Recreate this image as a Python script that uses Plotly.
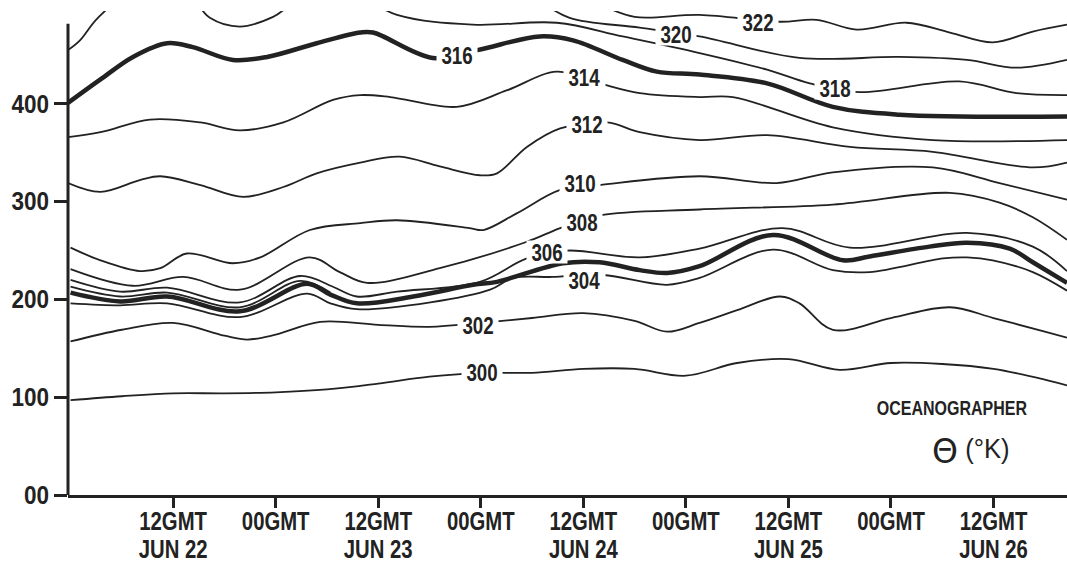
import json
import plotly.graph_objects as go

# ---- data: isentropes (hours after 00GMT Jun 22, height) ----
h300 = [0, 6, 12, 18, 24, 30, 36, 42, 48, 54, 60, 66, 72, 78, 84, 90, 96, 102, 108, 114, 116.6]
z300 = [97, 101, 104, 104, 105, 108, 114, 121, 125, 125, 129, 129, 122, 135, 139, 128, 135, 134, 129, 118, 112]

h302 = [0, 6, 12, 18, 20.7, 24, 29.2, 36, 42, 48, 54, 60, 66, 69.8, 73.6, 78, 83, 85.3, 89.2, 96, 102.9, 108, 114, 116.6]
z302 = [157, 169, 176, 163, 159, 164, 177, 174, 172, 176, 181, 186, 178, 167, 176, 189, 203, 196, 169, 181, 192, 181, 167, 161]

h304 = [0, 5.8, 11.3, 19.8, 27.7, 30.4, 33.5, 42.1, 49.1, 51.8, 56.4, 62.3, 69.8, 73.6, 82.2, 89.2, 93.5, 102.1, 104.9, 107.9, 112.6, 116.6]
z304 = [196, 194, 196, 182, 206, 196, 190, 197, 210, 222, 223, 225, 215, 222, 251, 230, 228, 242, 243, 240, 228, 209]

h305 = [0, 5.8, 11.3, 19.8, 27.7, 30.4, 33.5, 40.1, 47.1, 49.9, 57.6, 61.9, 66.6, 69.8, 73.6, 82.2, 90.4, 93.5, 100.5, 104.9, 109.9, 112.6, 116.6]
z305 = [207, 198, 203, 188, 216, 205, 196, 203, 215, 218, 237, 238, 230, 227, 234, 266, 240, 244, 254, 258, 252, 238, 217]

hX = [0, 5.8, 11.3, 19.8, 26.9, 30.4]
zX = [213, 203, 207, 192, 219, 207]

h306 = [0, 5.8, 11.3, 19.8, 26.9, 30.7, 33.5, 38.2, 47.9, 53.4, 58.1, 66.6, 73.6, 83.3, 91.2, 104.9, 112.6, 116.6]
z306 = [220, 208, 212, 197, 224, 213, 203, 208, 218, 242, 250, 243, 252, 273, 253, 268, 254, 229]

h308 = [0, 7.3, 13.2, 19.8, 28, 31.5, 34.7, 43.2, 53.4, 57.3, 61.9, 73.6, 89.2, 102.9, 108.7, 112.6, 116.6]
z308 = [231, 214, 223, 210, 243, 228, 217, 232, 259, 273, 286, 292, 297, 309, 299, 284, 261]

h310 = [0, 3.5, 8.1, 10.5, 13.6, 19, 22.2, 28, 33.9, 38.2, 46.7, 48.3, 52.2, 57.3, 61.9, 73.6, 82.6, 89.2, 100.9, 108.7, 116.6]
z310 = [253, 240, 229, 232, 247, 237, 243, 271, 278, 281, 273, 271, 288, 312, 317, 326, 319, 330, 335, 319, 302]

h312 = [-0.3, 3.5, 8.1, 10.5, 15.2, 20.2, 24.9, 28.8, 33.9, 38.5, 43.2, 47.9, 49.9, 53.4, 57.3, 62.8, 66.6, 73.6, 81.5, 91.2, 100.9, 112.6, 116.6]
z312 = [319, 310, 322, 326, 317, 305, 315, 329, 340, 346, 336, 327, 329, 356, 375, 381, 371, 363, 368, 356, 351, 335, 340]

h314 = [-0.3, 3.5, 9.3, 15.2, 19.8, 24.9, 30.7, 33.9, 37.4, 45.2, 51.1, 56.9, 61.9, 66.6, 73.6, 77.5, 89.2, 100.9, 116.6]
z314 = [366, 371, 384, 381, 373, 381, 404, 409, 407, 397, 414, 433, 421, 411, 407, 407, 376, 363, 363]

h316 = [-0.3, 3.5, 7.3, 11.3, 14.3, 19, 23, 28.8, 33.9, 35.4, 42.4, 47.6, 54.9, 58.8, 64.6, 68.6, 73.6, 81.5, 89.2, 97, 116.6]
z316 = [401, 425, 448, 462, 458, 445, 448, 462, 473, 473, 447, 455, 469, 465, 445, 433, 430, 421, 397, 389, 387]

h318 = [-0.3, 1.1, 3.2, 8, 13, 16.3, 19.8, 23.7, 30, 38.2, 47.1, 56.9, 64.6, 73.6, 81.5, 86.5, 92.3, 104, 110.7, 116.6]
z318 = [455, 465, 488, 520, 520, 488, 479, 489, 525, 491, 481, 483, 469, 452, 435, 421, 412, 423, 411, 409]

h320 = [55, 58.4, 66.6, 73.6, 85.3, 97, 104.9, 110.7, 116.6]
z320 = [505, 488, 478, 469, 447, 448, 445, 437, 445]

h322 = [62, 66, 73.6, 83, 87.3, 92, 97.8, 102.9, 107.9, 112.6, 116.6]
z322 = [502, 489, 491, 484, 486, 476, 483, 473, 463, 474, 481]

# contour labels
label_text = ["300", "302", "304", "306", "308", "310", "312", "314", "316", "318", "320", "322"]
label_hour = [48.1, 47.7, 60.1, 55.7, 59.8, 59.6, 60.4, 60.1, 45.2, 89.5, 70.8, 80.4]
label_height = [126, 174, 220, 249, 279, 319, 379, 427, 450, 416, 471, 484]

# axis ticks
x_tickvals = [12, 24, 36, 48, 60, 72, 84, 96, 108]
x_ticktext = ["12GMT<br>JUN 22", "00GMT", "12GMT<br>JUN 23", "00GMT", "12GMT<br>JUN 24",
              "00GMT", "12GMT<br>JUN 25", "00GMT", "12GMT<br>JUN 26"]
y_tickvals = [0, 100, 200, 300, 400]
y_ticktext = ["00", "100", "200", "300", "400"]

INK = "#222222"
FONT = "Liberation Sans, Arial, sans-serif"

series = [
    (h300, z300, 1.8), (h302, z302, 1.8), (h304, z304, 1.8), (h305, z305, 4.5),
    (hX, zX, 1.8), (h306, z306, 1.8), (h308, z308, 1.8), (h310, z310, 1.8),
    (h312, z312, 1.8), (h314, z314, 1.8), (h316, z316, 4.5), (h318, z318, 1.8),
    (h320, z320, 1.8), (h322, z322, 1.8),
]

fig = go.Figure()
for hx, zz, w in series:
    fig.add_trace(go.Scatter(x=hx, y=zz, mode="lines",
                             line=dict(color=INK, width=w, shape="spline", smoothing=1.0),
                             hoverinfo="skip", showlegend=False))

ann_squeeze = []
for t, hx, zz in zip(label_text, label_hour, label_height):
    fig.add_annotation(x=hx, y=zz, text=t, showarrow=False, bgcolor="white",
                       borderpad=0, height=22, valign="middle",
                       font=dict(family=FONT, size=24, color=INK, weight="bold"))
    ann_squeeze.append(0.78)

fig.add_annotation(x=103.1, y=89, text="OCEANOGRAPHER", showarrow=False,
                   font=dict(family=FONT, size=20, color=INK, weight="bold"))
ann_squeeze.append(0.8)
fig.add_annotation(x=102.3, y=45, text="Θ", showarrow=False,
                   font=dict(family="DejaVu Sans", size=33, color=INK))
ann_squeeze.append(1.0)
fig.add_annotation(x=107.3, y=47, text="(°K)", showarrow=False,
                   font=dict(family=FONT, size=27, color=INK))
ann_squeeze.append(0.95)

# y axis line (shorter than the plot area, as in the original)
fig.add_shape(type="line", xref="paper", yref="y", x0=0, x1=0, y0=0, y1=482,
              line=dict(color=INK, width=3), layer="above")

fig.update_layout(
    width=1067, height=563,
    margin=dict(l=68, r=0, t=11, b=68),
    paper_bgcolor="white", plot_bgcolor="white",
    font=dict(family=FONT, color=INK),
    xaxis=dict(range=[-0.3, 116.6], tickvals=x_tickvals, ticktext=x_ticktext,
               ticks="outside", ticklen=10, tickwidth=2.5, tickcolor=INK,
               showline=True, linewidth=3, linecolor=INK, showgrid=False, zeroline=False,
               automargin=False, ticklabelstandoff=-9,
               tickfont=dict(family=FONT, size=26, color=INK, weight="bold")),
    yaxis=dict(range=[0, 495], tickvals=y_tickvals, ticktext=y_ticktext,
               ticks="outside", ticklen=13, tickwidth=2.5, tickcolor=INK,
               showline=False, showgrid=False, zeroline=False, automargin=False,
               tickfont=dict(family=FONT, size=25, color=INK, weight="bold")),
)

# condense the text horizontally (the original uses a condensed typeface)
post_js = """
var gd = document.getElementById('{plot_id}');
function squeezeEl(e, f){
  var L = e.getComputedTextLength();
  if (L > 0 && f !== 1) { e.setAttribute('textLength', (L*f).toFixed(2)); e.setAttribute('lengthAdjust','spacingAndGlyphs'); }
}
function squeezeText(t, f, lineK){
  var lines = t.querySelectorAll('tspan.line');
  if (lines.length){
    lines.forEach(function(s){
      squeezeEl(s, f);
      var dy = s.getAttribute('dy');
      if (dy && lineK){ s.setAttribute('dy', (parseFloat(dy)*lineK) + 'em'); }
    });
  } else { squeezeEl(t, f); }
}
gd.querySelectorAll('.xtick text').forEach(function(t){ squeezeText(t, XF, LK); });
gd.querySelectorAll('.ytick text').forEach(function(t){ squeezeText(t, YF, 0); });
var facs = ANNF;
gd.querySelectorAll('g.annotation').forEach(function(g){
  var i = parseInt(g.getAttribute('data-index'));
  var t = g.querySelector('text.annotation-text');
  if (t && facs[i] !== undefined) squeezeText(t, facs[i], 0);
});
"""
post_js = (post_js.replace("XF", "0.78").replace("YF", "0.9").replace("LK", "0.83")
           .replace("ANNF", json.dumps(ann_squeeze)))

fig.write_html("out.html", post_script=post_js)
